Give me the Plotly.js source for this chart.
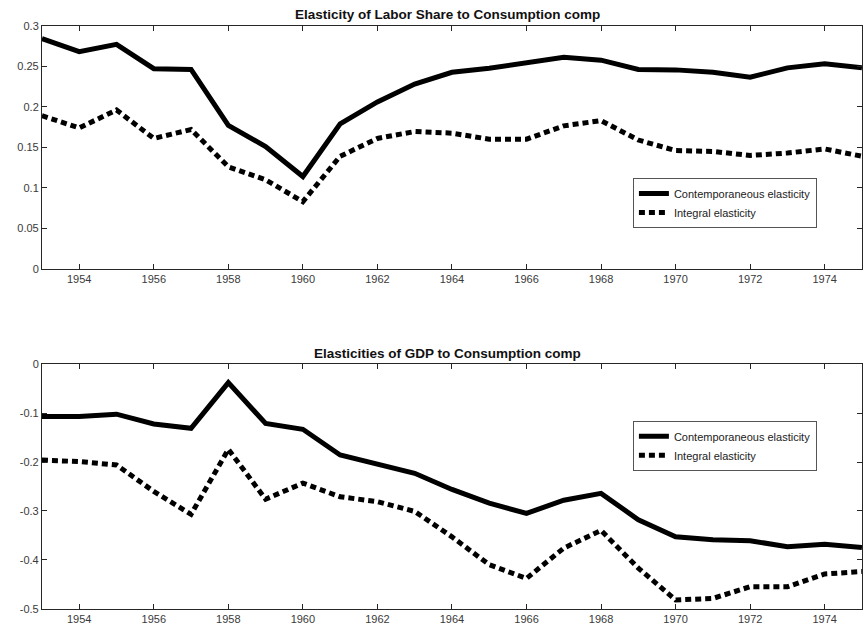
<!DOCTYPE html>
<html>
<head>
<meta charset="utf-8">
<script src="https://cdn.plot.ly/plotly-3.0.1.min.js"></script>
<style>html,body{margin:0;padding:0;background:#fff;}#chart{width:867px;height:634px;}</style>
</head>
<body>
<div id="chart"></div>
<script>
const years = [1953,1954,1955,1956,1957,1958,1959,1960,1961,1962,1963,1964,1965,1966,1967,1968,1969,1970,1971,1972,1973,1974,1975];

const laborContemp = [0.284,0.268,0.277,0.247,0.246,0.177,0.151,0.114,0.179,0.206,0.228,0.2425,0.2475,0.2535,0.261,0.2575,0.246,0.2455,0.2425,0.2365,0.248,0.253,0.248];
const laborIntegral = [0.189,0.174,0.196,0.161,0.172,0.126,0.110,0.083,0.139,0.161,0.1695,0.1675,0.160,0.160,0.1765,0.183,0.159,0.146,0.145,0.140,0.143,0.148,0.139];

const gdpContemp = [-0.107,-0.107,-0.102,-0.122,-0.131,-0.0375,-0.121,-0.133,-0.1855,-0.204,-0.223,-0.256,-0.284,-0.305,-0.278,-0.264,-0.318,-0.353,-0.359,-0.361,-0.373,-0.368,-0.375];
const gdpIntegral = [-0.196,-0.199,-0.206,-0.260,-0.307,-0.174,-0.276,-0.243,-0.271,-0.281,-0.301,-0.353,-0.410,-0.438,-0.376,-0.340,-0.417,-0.482,-0.479,-0.455,-0.455,-0.429,-0.424];

const xTickVals = [1954,1956,1958,1960,1962,1964,1966,1968,1970,1972,1974];
const topTickVals = [0,0.05,0.1,0.15,0.2,0.25,0.3];
const topTickText = ["0","0.05","0.1","0.15","0.2","0.25","0.3"];
const botTickVals = [-0.5,-0.4,-0.3,-0.2,-0.1,0];
const botTickText = ["-0.5","-0.4","-0.3","-0.2","-0.1","0"];

const seriesNames = ["Contemporaneous elasticity","Integral elasticity"];
const titles = ["Elasticity of Labor Share to Consumption comp","Elasticities of GDP to Consumption comp"];

const FONT = 'Liberation Sans, Arial, Helvetica, sans-serif';
const solidLine = {color:'#000', width:5};
const dotLine = {color:'#000', width:5, dash:'6px,4px'};

const traces = [
  {x:years, y:laborContemp, type:'scatter', mode:'lines', name:seriesNames[0], line:solidLine, xaxis:'x', yaxis:'y', legend:'legend'},
  {x:years, y:laborIntegral, type:'scatter', mode:'lines', name:seriesNames[1], line:dotLine, xaxis:'x', yaxis:'y', legend:'legend'},
  {x:years, y:gdpContemp, type:'scatter', mode:'lines', name:seriesNames[0], line:solidLine, xaxis:'x2', yaxis:'y2', legend:'legend2'},
  {x:years, y:gdpIntegral, type:'scatter', mode:'lines', name:seriesNames[1], line:dotLine, xaxis:'x2', yaxis:'y2', legend:'legend2'}
];

const axisCommon = {
  showgrid:false, zeroline:false, showline:true, linecolor:'#262626', linewidth:1,
  mirror:'ticks', ticks:'inside', ticklen:5, tickcolor:'#262626', tickwidth:1,
  tickfont:{family:FONT, size:11, color:'#3a3a3a'}
};

const xCommon = Object.assign({}, axisCommon, {range:[1953,1975], tickmode:'array', tickvals:xTickVals, domain:[0.0484,0.9942]});

const legendCommon = {
  bgcolor:'#fff', bordercolor:'#555', borderwidth:1,
  font:{family:FONT, size:11, color:'#222'},
  xanchor:'left', yanchor:'top', tracegroupgap:0, itemwidth:30
};

const layout = {
  width:867, height:634,
  margin:{l:0, r:0, t:0, b:0},
  paper_bgcolor:'#fff', plot_bgcolor:'#fff',
  showlegend:true,
  xaxis: Object.assign({}, xCommon, {anchor:'y'}),
  yaxis: Object.assign({}, axisCommon, {domain:[0.5757,0.9595], range:[0,0.3], tickmode:'array', tickvals:topTickVals, ticktext:topTickText, anchor:'x'}),
  xaxis2: Object.assign({}, xCommon, {anchor:'y2'}),
  yaxis2: Object.assign({}, axisCommon, {domain:[0.0399,0.4254], range:[-0.5,0], tickmode:'array', tickvals:botTickVals, ticktext:botTickText, anchor:'x2'}),
  legend: Object.assign({}, legendCommon, {x:0.730, y:0.7192}),
  legend2: Object.assign({}, legendCommon, {x:0.730, y:0.3364}),
  annotations: [
    {text:'<b>'+titles[0]+'</b>', xref:'paper', yref:'paper', x:0.5164, y:1-15/634, xanchor:'center', yanchor:'middle', showarrow:false, font:{family:FONT, size:13.5, color:'#111'}},
    {text:'<b>'+titles[1]+'</b>', xref:'paper', yref:'paper', x:0.5164, y:1-353.5/634, xanchor:'center', yanchor:'middle', showarrow:false, font:{family:FONT, size:13.5, color:'#111'}}
  ]
};

Plotly.newPlot('chart', traces, layout, {displayModeBar:false, staticPlot:true});
</script>
</body>
</html>
